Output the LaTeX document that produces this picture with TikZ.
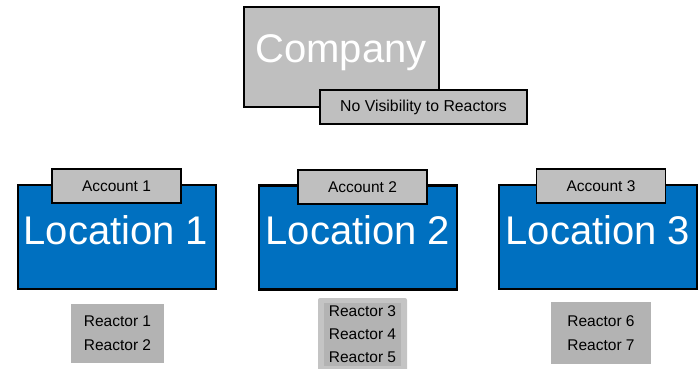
\documentclass[tikz,border=0pt]{standalone}
\usepackage{fontspec}
\setmainfont{Liberation Sans}
\definecolor{locblue}{HTML}{0070C0}
\definecolor{boxgray}{HTML}{BFBFBF}
\definecolor{reacgray}{HTML}{B3B3B3}
\definecolor{reaclight}{HTML}{C4C4C4}
\tikzset{
  graybox/.style={draw=black, fill=boxgray, line width=1.3pt, inner sep=0pt},
  locbox/.style={draw=black, fill=locblue, line width=2.2pt, inner sep=0pt,
    minimum width=198pt, minimum height=104pt},
  acctbox/.style={graybox, minimum width=129pt, minimum height=34pt,
    font=\fontsize{15.5}{18}\selectfont},
  bigtext/.style={text=white, inner sep=0pt, font=\fontsize{40}{48}\selectfont},
  reacbox/.style={fill=reacgray, inner sep=0pt, align=center,
    font=\fontsize{15.5}{24}\selectfont}
}
\begin{document}
\begin{tikzpicture}[x=1pt,y=-1pt]
\useasboundingbox (0,0) rectangle (698,368);

    % company
    \node[graybox, minimum width=195pt, minimum height=100pt] (company) at (341.5,57) {};
    \node[bigtext] (companytext) at (341,53) {Company};
    \node[graybox, minimum width=207pt, minimum height=34pt,
      font=\fontsize{15.8}{18}\selectfont] (novis) at (423.5,107) {No Visibility to Reactors};

    % locations
    \node[locbox] (loc1) at (117,237) {};
    \node[locbox] (loc2) at (358,237.5) {};
    \node[locbox] (loc3) at (598,237) {};
    \node[bigtext] (loc1text) at (116,230) {Location 1};
    \node[bigtext] (loc2text) at (358,230) {Location 2};
    \node[bigtext] (loc3text) at (598,230) {Location 3};

    % accounts
    \node[acctbox] (acct1) at (116.5,186) {Account 1};
    \node[acctbox] (acct2) at (362.5,187) {Account 2};
    \node[acctbox] (acct3) at (601,186) {Account 3};

    % reactors
    \node[reacbox, minimum width=93pt, minimum height=59pt] (reac12) at (117.5,333.5)
      {Reactor 1\\Reactor 2};
    \node[fill=reaclight, rounded corners=2pt, minimum width=89pt, minimum height=80pt,
      inner sep=0pt] (reac345bg) at (362.5,338) {};
    \node[reacbox, minimum width=77pt, minimum height=63pt,
      font=\fontsize{15.5}{23}\selectfont] (reac345) at (362.5,334.5)
      {Reactor 3\\Reactor 4\\Reactor 5};
    \node[reacbox, minimum width=100pt, minimum height=62pt] (reac67) at (601,333)
      {Reactor 6\\Reactor 7};

\end{tikzpicture}
\end{document}
